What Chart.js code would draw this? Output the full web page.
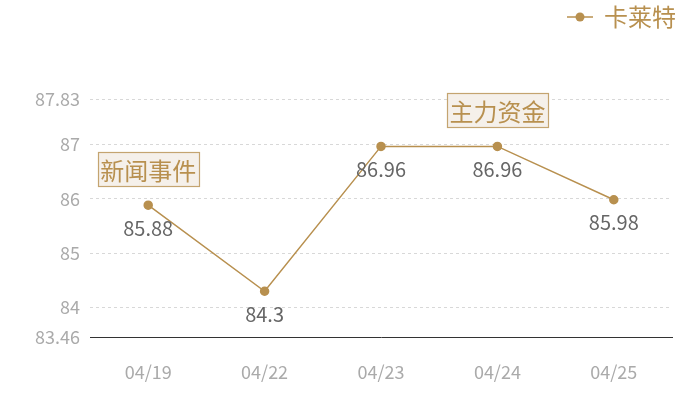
<!DOCTYPE html>
<html><head><meta charset="utf-8">
<script src="https://cdn.jsdelivr.net/npm/chart.js@4.4.1/dist/chart.umd.min.js"></script>
<style>html,body{margin:0;padding:0;background:#fff}#wrap{width:700px;height:400px}</style>
</head><body><div id="wrap"><canvas id="c" width="700" height="400"></canvas></div>
<script>
const categories = ['04/19','04/22','04/23','04/24','04/25'];
const seriesName = '卡莱特';
const values = [85.88, 84.3, 86.96, 86.96, 85.98];
const yTicks = [83.46, 84, 85, 86, 87, 87.83];
const annotationIndex = [0, 3];
const annotationText = ['新闻事件', '主力资金'];

const GOLD = '#b8904f';
const FONT = "'Noto Sans CJK SC', 'Noto Sans', sans-serif";

const legendIcon = document.createElement('canvas');
legendIcon.width = 26; legendIcon.height = 12;
(function(){const g=legendIcon.getContext('2d');g.strokeStyle=GOLD;g.lineWidth=1.5;g.beginPath();g.moveTo(0,6);g.lineTo(26,6);g.stroke();g.fillStyle=GOLD;g.beginPath();g.arc(13,6,4.5,0,Math.PI*2);g.fill();})();

const legendSpacer = {
  id: 'legendSpacer',
  beforeUpdate(chart) {
    const lg = chart.legend;
    if (lg && !lg._patched) {
      const origFit = lg.fit;
      lg.fit = function () { origFit.call(this); this.height += 61; };
      const origDraw = lg.draw;
      lg.draw = function () {
        const c = this.ctx; c.save(); c.translate(8, 1); origDraw.call(this); c.restore();
      };
      lg._patched = true;
    }
  }
};

const labelsPlugin = {
  id: 'valLabels',
  afterDatasetsDraw(chart) {
    const ctx = chart.ctx;
    const meta = chart.getDatasetMeta(0);
    ctx.save();
    ctx.font = '20px ' + FONT;
    ctx.fillStyle = '#666';
    ctx.textAlign = 'center';
    ctx.textBaseline = 'middle';
    meta.data.forEach((p, i) => {
      ctx.fillText(String(values[i]), p.x, p.y + 23);
    });
    annotationIndex.forEach((idx, k) => {
      const p = meta.data[idx];
      ctx.font = '24px ' + FONT;
      const w = ctx.measureText(annotationText[k]).width + 5;
      const h = 34;
      const x = Math.round(p.x - w / 2) + 0.5, y = Math.round(p.y - 19 - h) + 0.5;
      ctx.fillStyle = '#f5f0ea';
      ctx.fillRect(x, y, w, h);
      ctx.strokeStyle = '#c4a470';
      ctx.lineWidth = 1.2;
      ctx.strokeRect(x, y, w, h);
      ctx.fillStyle = '#b8904f';
      ctx.fillText(annotationText[k], p.x, y + h / 2 + 1);
    });
    ctx.restore();
  }
};

new Chart(document.getElementById('c'), {
  type: 'line',
  data: {
    labels: categories,
    datasets: [{
      label: seriesName,
      data: values,
      borderColor: GOLD,
      backgroundColor: GOLD,
      borderWidth: 1.5,
      pointRadius: 4,
      pointBackgroundColor: GOLD,
      pointBorderColor: GOLD,
      tension: 0,
      pointStyle: 'circle'
    }]
  },
  options: {
    responsive: false,
    animation: false,
    layout: { padding: { top: 0, right: 28, bottom: 0, left: 0 } },
    plugins: {
      tooltip: { enabled: false },
      legend: {
        position: 'top',
        align: 'end',
        labels: {
          usePointStyle: true,
          generateLabels(chart) {
            return [{ text: seriesName, pointStyle: legendIcon, fontColor: GOLD, strokeStyle: GOLD, fillStyle: GOLD, lineWidth: 0, datasetIndex: 0 }];
          },
          color: GOLD,
          font: { size: 24, family: FONT },
          padding: 4,
          boxWidth: 26
        }
      }
    },
    scales: {
      x: {
        offset: true,
        afterFit(scale) { scale.height = 63; },
        grid: { display: false, drawTicks: false },
        border: { display: true, color: '#333', width: 1 },
        ticks: { color: '#aaa', font: { size: 18, family: FONT }, padding: 24 }
      },
      y: {
        min: 83.46,
        max: 87.83,
        afterBuildTicks(scale) { scale.ticks = yTicks.map(v => ({ value: v })); },
        afterFit(scale) { scale.width = 90; },
        grid: {
          drawTicks: false,
          color: (c) => (c.tick && c.tick.value === 83.46) ? 'rgba(0,0,0,0)' : '#d8d8d8',
          lineWidth: 1
        },
        border: { display: false, dash: [3, 3] },
        ticks: {
          color: '#aaa',
          font: { size: 18, family: FONT },
          padding: 10,
          callback: (v) => String(v)
        }
      }
    }
  },
  plugins: [legendSpacer, labelsPlugin]
});
</script></body></html>
